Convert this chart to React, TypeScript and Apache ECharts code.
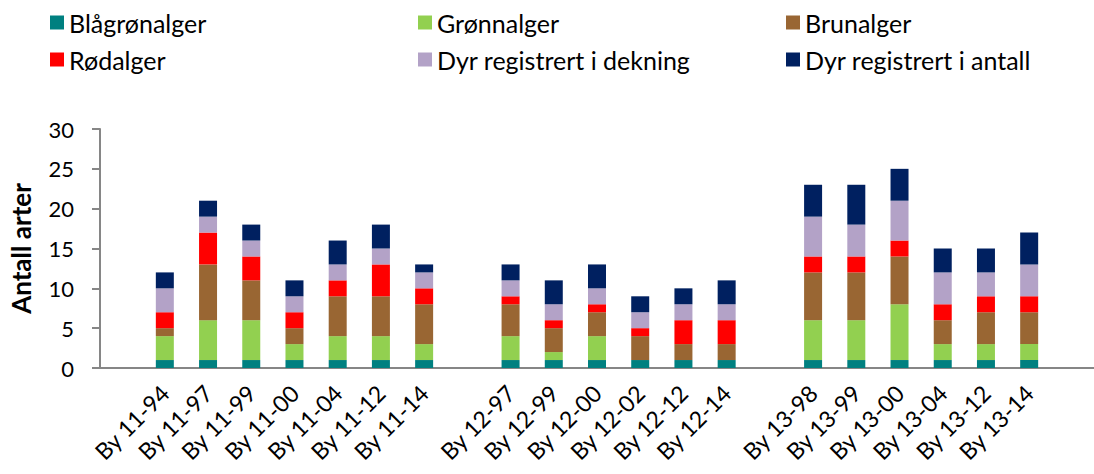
import React, { useEffect, useRef } from "react";
import * as echarts from "echarts";

const categories = [
  "",
  "By 11-94", "By 11-97", "By 11-99", "By 11-00", "By 11-04", "By 11-12", "By 11-14",
  "",
  "By 12-97", "By 12-99", "By 12-00", "By 12-02", "By 12-12", "By 12-14",
  "",
  "By 13-98", "By 13-99", "By 13-00", "By 13-04", "By 13-12", "By 13-14",
  "",
];

const seriesNames = [
  "Blågrønalger",
  "Grønnalger",
  "Brunalger",
  "Rødalger",
  "Dyr registrert i dekning",
  "Dyr registrert i antall",
];

const colors = ["#008080", "#92D050", "#996633", "#FF0000", "#B3A2C7", "#002060"];

const blagronalger = [null, 1, 1, 1, 1, 1, 1, 1, null, 1, 1, 1, 1, 1, 1, null, 1, 1, 1, 1, 1, 1, null];
const gronnalger = [null, 3, 5, 5, 2, 3, 3, 2, null, 3, 1, 3, 0, 0, 0, null, 5, 5, 7, 2, 2, 2, null];
const brunalger = [null, 1, 7, 5, 2, 5, 5, 5, null, 4, 3, 3, 3, 2, 2, null, 6, 6, 6, 3, 4, 4, null];
const rodalger = [null, 2, 4, 3, 2, 2, 4, 2, null, 1, 1, 1, 1, 3, 3, null, 2, 2, 2, 2, 2, 2, null];
const dyrDekning = [null, 3, 2, 2, 2, 2, 2, 2, null, 2, 2, 2, 2, 2, 2, null, 5, 4, 5, 4, 3, 4, null];
const dyrAntall = [null, 2, 2, 2, 2, 3, 3, 1, null, 2, 3, 3, 2, 2, 3, null, 4, 5, 4, 3, 3, 4, null];

const seriesValues = [blagronalger, gronnalger, brunalger, rodalger, dyrDekning, dyrAntall];

const FONT = "Lato, 'Open Sans', sans-serif";

export default function App() {
  const ref = useRef<HTMLDivElement>(null);

  useEffect(() => {
    if (!ref.current) return;
    const chart = echarts.init(ref.current, undefined, { renderer: "svg" });

    const legendPos = [
      { left: 50, top: 10 },
      { left: 418, top: 10 },
      { left: 786, top: 10 },
      { left: 50, top: 47 },
      { left: 418, top: 47 },
      { left: 786, top: 47 },
    ];

    chart.setOption({
      animation: false,
      textStyle: { fontFamily: FONT },
      legend: seriesNames.map((name, i) => ({
        data: [name],
        left: legendPos[i].left,
        top: legendPos[i].top,
        itemWidth: 14,
        itemHeight: 14,
        itemGap: 8,
        icon: "rect",
        textStyle: { fontSize: 25, color: "#000", fontFamily: FONT, padding: [0, 0, 0, 0] },
        padding: 0,
      })),
      grid: { left: 94, right: -4, top: 129, bottom: 106, containLabel: false },
      xAxis: {
        type: "category",
        data: categories,
        axisLine: { lineStyle: { color: "#868686", width: 2 } },
        axisTick: { interval: 0, length: 7, lineStyle: { color: "#868686", width: 2 } },
        axisLabel: {
          interval: 0,
          rotate: 45,
          fontSize: 23,
          color: "#000",
          fontFamily: FONT,
          margin: 21,
        },
      },
      yAxis: {
        type: "value",
        min: 0,
        max: 30,
        interval: 5,
        name: "Antall arter",
        nameLocation: "middle",
        nameGap: 66,
        nameRotate: 90,
        nameTextStyle: { fontSize: 26, fontWeight: "bold", color: "#000", fontFamily: FONT },
        axisLine: { show: true, lineStyle: { color: "#868686", width: 2 } },
        axisTick: { show: true, length: 8, lineStyle: { color: "#868686", width: 2 } },
        axisLabel: { fontSize: 22, color: "#000", margin: 26, fontFamily: FONT },
        splitLine: { show: false },
      },
      series: seriesNames.map((name, i) => ({
        name,
        type: "bar",
        stack: "total",
        barWidth: 18,
        data: seriesValues[i],
        itemStyle: { color: colors[i] },
      })),
    });

    return () => chart.dispose();
  }, []);

  return <div ref={ref} style={{ width: 1094, height: 474, position: "absolute", left: 0, top: 0 }} />;
}
